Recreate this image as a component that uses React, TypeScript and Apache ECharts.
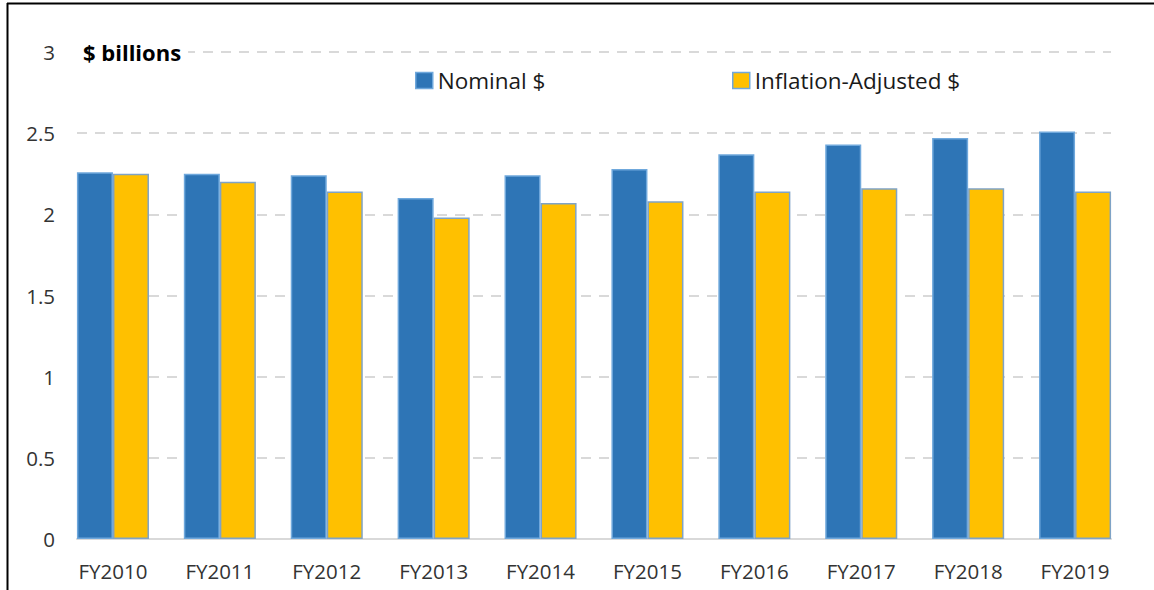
import React, { useEffect, useRef } from "react";
import * as echarts from "echarts";

const categories = ["FY2010", "FY2011", "FY2012", "FY2013", "FY2014", "FY2015", "FY2016", "FY2017", "FY2018", "FY2019"];
const nominal = [2.26, 2.25, 2.24, 2.10, 2.24, 2.28, 2.37, 2.43, 2.47, 2.51];
const adjusted = [2.25, 2.20, 2.14, 1.98, 2.07, 2.08, 2.14, 2.16, 2.16, 2.14];
const seriesNames = ["Nominal $", "Inflation-Adjusted $"];
const yMin = 0;
const yMax = 3;
const yStep = 0.5;
const unitLabel = "$ billions";

export default function App() {
  const ref = useRef<HTMLDivElement>(null);
  useEffect(() => {
    const chart = echarts.init(ref.current!, null, { renderer: "svg" });
    const font = "'Open Sans', sans-serif";
    chart.setOption({
      animation: false,
      backgroundColor: "#ffffff",
      grid: [
        { left: 59.5, right: 25.5, top: 52, bottom: 51 },
        { left: 77, right: 43, top: 52, bottom: 51 },
      ],
      legend: [
        {
          data: [seriesNames[0]],
          left: 410,
          top: 64,
          icon: "rect",
          itemWidth: 17,
          itemHeight: 16,
          textStyle: { fontSize: 22.5, color: "#1a1a1a", fontFamily: font },
          itemStyle: { borderColor: "#6fa8dc", borderWidth: 1.5 },
          selectedMode: false,
        },
        {
          data: [seriesNames[1]],
          left: 727,
          top: 64,
          icon: "rect",
          itemWidth: 17,
          itemHeight: 16,
          textStyle: { fontSize: 22.5, color: "#1a1a1a", fontFamily: font },
          itemStyle: { borderColor: "#6fa8dc", borderWidth: 1.5 },
          selectedMode: false,
        },
      ],
      xAxis: [
        {
          type: "category",
          data: categories,
          gridIndex: 0,
          axisLine: { show: false },
          axisTick: { show: false },
          axisLabel: { fontSize: 20.5, color: "#333333", margin: 21, fontFamily: font },
        },
        {
          type: "value",
          gridIndex: 1,
          min: 0,
          max: 1,
          axisLine: { show: true, lineStyle: { color: "#d9d9d9", width: 2 } },
          axisTick: { show: false },
          axisLabel: { show: false },
          splitLine: { show: false },
        },
      ],
      yAxis: [
        { type: "value", gridIndex: 0, min: yMin, max: yMax, interval: yStep, show: false },
        {
          type: "value",
          gridIndex: 1,
          min: yMin,
          max: yMax,
          interval: yStep,
          axisLine: { show: false },
          axisTick: { show: false },
          axisLabel: { fontSize: 20.5, color: "#333333", margin: 22, fontFamily: font },
          splitLine: { lineStyle: { type: [10, 8], color: "#d9d9d9", width: 2 } },
        },
      ],
      series: [
        {
          name: seriesNames[0],
          type: "bar",
          xAxisIndex: 0,
          yAxisIndex: 0,
          data: nominal,
          barGap: "0%",
          barCategoryGap: "32.6%",
          itemStyle: { color: "#2e75b6", borderColor: "#6fa8dc", borderWidth: 1.5 },
        },
        {
          name: seriesNames[1],
          type: "bar",
          xAxisIndex: 0,
          yAxisIndex: 0,
          data: adjusted,
          barGap: "0%",
          barCategoryGap: "32.6%",
          itemStyle: { color: "#ffc000", borderColor: "#7fa3c6", borderWidth: 1.5 },
        },
      ],
      graphic: [
        {
          type: "text",
          x: 77,
          y: 52,
          z: 100,
          style: {
            text: unitLabel,
            font: "bold 22px 'Open Sans', sans-serif",
            fill: "#000000",
            backgroundColor: "#ffffff",
            padding: [2, 7, 2, 6],
            verticalAlign: "middle",
          },
        },
        {
          type: "line",
          z: 100,
          shape: { x1: 7, y1: 3.5, x2: 1154, y2: 3.5 },
          style: { stroke: "#000000", lineWidth: 2 },
        },
        {
          type: "line",
          z: 100,
          shape: { x1: 7.5, y1: 3, x2: 7.5, y2: 590 },
          style: { stroke: "#000000", lineWidth: 2 },
        },
      ],
    });
    return () => chart.dispose();
  }, []);
  return (
    <div
      ref={ref}
      style={{ position: "fixed", left: 0, top: 0, width: 1154, height: 590, background: "#fff" }}
    />
  );
}
